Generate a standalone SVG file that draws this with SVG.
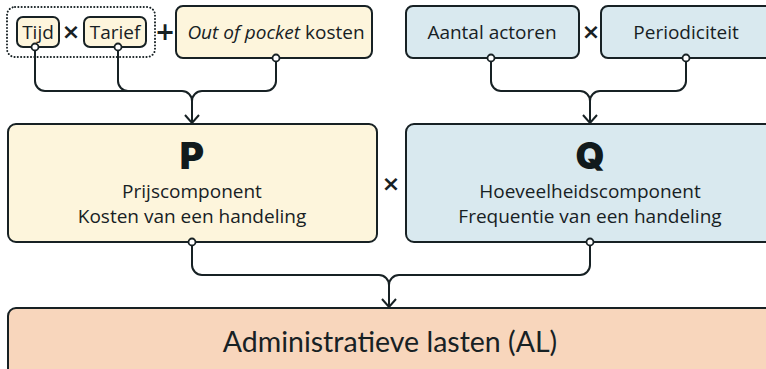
<svg xmlns="http://www.w3.org/2000/svg" width="766" height="369" viewBox="0 0 766 369">
  <style>
    .box { stroke: #172124; stroke-width: 2; }
    .p { fill: #fdf5dc; }
    .q { fill: #d9e9ef; }
    .al { fill: #f8d6bc; }
    .lbl { font-family: "Open Sans", "Noto Sans", sans-serif; font-size: 19px; fill: #172124; text-anchor: middle; }
    .op { font-family: "DejaVu Sans", sans-serif; font-weight: bold; fill: #172124; text-anchor: middle; }
    .big { font-family: Inter, "Noto Sans", sans-serif; font-size: 37px; font-weight: 900; fill: #111a1c; text-anchor: middle; }
    .title { font-family: Lato, "Open Sans", sans-serif; font-size: 28.5px; fill: #172124; text-anchor: middle; }
    .wire { fill: none; stroke: #172124; stroke-width: 2; }
    .dot { fill: #ffffff; stroke: #172124; stroke-width: 1.8; }
  </style>
  <defs>
    <marker id="arrow" markerUnits="userSpaceOnUse" markerWidth="18" markerHeight="18" viewBox="-9 -9 18 18" refX="0" refY="0" orient="auto">
      <path d="M-8,-7 L0,0 L-8,7" fill="none" stroke="#172124" stroke-width="2"/>
    </marker>
  </defs>

  <!-- connectors -->
  <g id="connectors">
    <path class="wire" d="M35,50 V81 A10,10 0 0 0 45,91 H182 A10,10 0 0 1 192,101 V123" marker-end="url(#arrow)"/>
    <path class="wire" d="M118,50 V81 A10,10 0 0 0 128,91 H182"/>
    <path class="wire" d="M276,61 V81 A10,10 0 0 1 266,91 H202 A10,10 0 0 0 192,101 V123"/>
    <path class="wire" d="M491,61 V81 A10,10 0 0 0 501,91 H580 A10,10 0 0 1 590,101 V123" marker-end="url(#arrow)"/>
    <path class="wire" d="M686,61 V81 A10,10 0 0 1 676,91 H600 A10,10 0 0 0 590,101 V123"/>
    <path class="wire" d="M192,245 V265 A10,10 0 0 0 202,275 H379 A10,10 0 0 1 389,285 V307" marker-end="url(#arrow)"/>
    <path class="wire" d="M590,245 V265 A10,10 0 0 1 580,275 H399 A10,10 0 0 0 389,285 V307"/>
  </g>

  <!-- time x rate grouping -->
  <g id="tijd-tarief-groep">
    <rect x="7" y="7" width="148" height="50" rx="8" fill="none" stroke="#172124" stroke-width="2" stroke-dasharray="0.1 3.2" stroke-linecap="round"/>
  </g>
  <g id="tijd">
    <rect class="box p" x="17" y="17" width="42" height="30" rx="6"/>
    <text class="lbl" x="38" y="39">Tijd</text>
    <circle class="dot" cx="35" cy="47" r="3.5"/>
  </g>
  <text class="op" x="71" y="39" font-size="22">×</text>
  <g id="tarief">
    <rect class="box p" x="84" y="17" width="62" height="30" rx="6"/>
    <text class="lbl" x="115" y="39">Tarief</text>
    <circle class="dot" cx="118" cy="47" r="3.5"/>
  </g>
  <text class="op" x="165" y="40" font-size="24">+</text>
  <g id="out-of-pocket">
    <rect class="box p" x="176" y="6" width="196" height="52" rx="7"/>
    <text class="lbl" x="276" y="39"><tspan font-style="italic">Out of pocket</tspan> kosten</text>
    <circle class="dot" cx="276" cy="58" r="3.5"/>
  </g>

  <g id="aantal-actoren">
    <rect class="box q" x="406" y="6" width="173" height="52" rx="7"/>
    <text class="lbl" x="492" y="39">Aantal actoren</text>
    <circle class="dot" cx="491" cy="58" r="3.5"/>
  </g>
  <text class="op" x="591" y="39" font-size="22">×</text>
  <g id="periodiciteit">
    <rect class="box q" x="601" y="6" width="172" height="52" rx="7"/>
    <text class="lbl" x="686" y="39">Periodiciteit</text>
    <circle class="dot" cx="686" cy="58" r="3.5"/>
  </g>

  <g id="prijscomponent">
    <rect class="box p" x="8" y="124" width="369" height="118" rx="8"/>
    <text class="big" x="192" y="169">P</text>
    <text class="lbl" x="192" y="198">Prijscomponent</text>
    <text class="lbl" x="192" y="223">Kosten van een handeling</text>
    <circle class="dot" cx="192" cy="242" r="3.5"/>
  </g>
  <text class="op" x="391" y="191" font-size="22">×</text>
  <g id="hoeveelheidscomponent">
    <rect class="box q" x="406" y="124" width="368" height="118" rx="8"/>
    <text class="big" x="590" y="169">Q</text>
    <text class="lbl" x="590" y="198">Hoeveelheidscomponent</text>
    <text class="lbl" x="590" y="223">Frequentie van een handeling</text>
    <circle class="dot" cx="590" cy="242" r="3.5"/>
  </g>

  <g id="administratieve-lasten">
    <rect class="box al" x="8" y="308" width="766" height="80" rx="8"/>
    <text class="title" x="390" y="352">Administratieve lasten (AL)</text>
  </g>
</svg>
